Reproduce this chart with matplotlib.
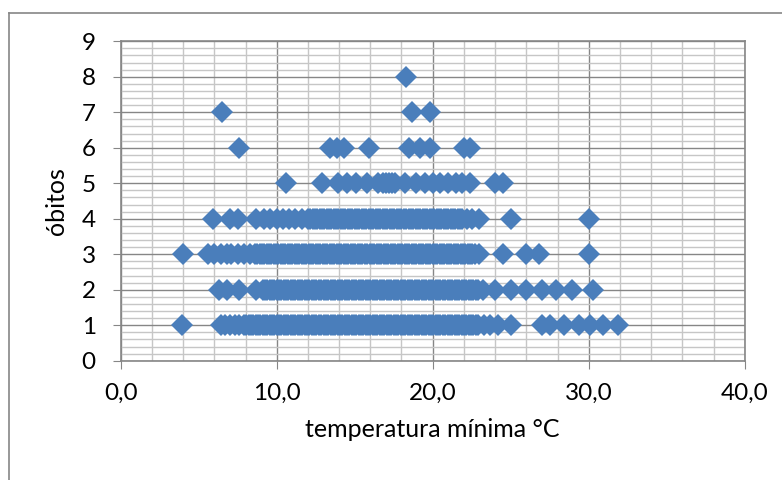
import matplotlib
matplotlib.use("Agg")
import matplotlib.pyplot as plt
from matplotlib.lines import Line2D
from matplotlib.ticker import MultipleLocator, FuncFormatter

# Data: x = minimum temperature (°C) per death count level
x_y1 = [3.9, 6.4, 6.7, 7.0, 7.3, 7.6, 7.9, 8.2, 8.5, 8.8, 9.1, 9.4, 9.7, 10.0, 10.3,
        10.6, 10.9, 11.2, 11.5, 11.8, 12.1, 12.4, 12.7, 13.0, 13.3, 13.6, 13.9, 14.2,
        14.5, 14.8, 15.1, 15.4, 15.7, 16.0, 16.3, 16.6, 16.9, 17.2, 17.5, 17.8, 18.1,
        18.4, 18.7, 19.0, 19.3, 19.6, 19.9, 20.2, 20.5, 20.8, 21.1, 21.4, 21.7, 22.0,
        22.3, 22.6, 22.9, 23.3, 23.7, 24.2, 25.0,
        27.0, 27.5, 28.4, 29.4, 30.1, 30.9, 31.9,
        8.05, 8.35, 8.65, 8.95, 9.25, 9.55, 9.85, 10.15, 10.45, 10.75, 11.05, 11.35,
        11.65, 11.95, 12.25, 12.55, 12.85, 13.15, 13.45, 13.75, 14.05, 14.35, 14.65,
        14.95, 15.25, 15.55, 15.85, 16.15, 16.45, 16.75, 17.05, 17.35, 17.65, 17.95,
        18.25, 18.55, 18.85, 19.15, 19.45, 19.75, 20.05, 20.35, 20.65, 20.95, 21.25,
        21.55, 21.85, 22.15, 22.45, 22.75]
x_y2 = [6.3, 6.8, 7.6, 8.7, 9.1, 9.4, 9.7, 10.0, 10.3, 10.6, 10.9, 11.2, 11.5, 11.8,
        12.1, 12.4, 12.7, 13.0, 13.3, 13.6, 13.9, 14.2, 14.5, 14.8, 15.1, 15.4, 15.7,
        16.0, 16.3, 16.6, 16.9, 17.2, 17.5, 17.8, 18.1, 18.4, 18.7, 19.0, 19.3, 19.6,
        19.9, 20.2, 20.5, 20.8, 21.1, 21.4, 21.7, 22.0, 22.3, 22.6, 22.9, 23.2,
        24.0, 25.0, 26.0, 27.0, 27.9, 28.9, 30.3,
        9.25, 9.55, 9.85, 10.15, 10.45, 10.75, 11.05, 11.35, 11.65, 11.95, 12.25,
        12.55, 12.85, 13.15, 13.45, 13.75, 14.05, 14.35, 14.65, 14.95, 15.25, 15.55,
        15.85, 16.15, 16.45, 16.75, 17.05, 17.35, 17.65, 17.95, 18.25, 18.55, 18.85,
        19.15, 19.45, 19.75, 20.05, 20.35, 20.65, 20.95, 21.25, 21.55, 21.85, 22.15,
        22.45, 22.75]
x_y3 = [4.0, 5.6, 6.0, 6.4, 6.8, 7.1, 7.5, 7.9, 8.3, 8.6, 8.9, 9.2, 9.5, 9.8, 10.1,
        10.4, 10.7, 11.0, 11.3, 11.6, 11.9, 12.2, 12.5, 12.8, 13.1, 13.4, 13.7, 14.0,
        14.3, 14.6, 14.9, 15.2, 15.5, 15.8, 16.1, 16.4, 16.7, 17.0, 17.3, 17.6, 17.9,
        18.2, 18.5, 18.8, 19.1, 19.4, 19.7, 20.0, 20.3, 20.6, 20.9, 21.2, 21.5, 21.8,
        22.1, 22.4, 22.7, 23.0, 24.5, 26.0, 26.8, 30.0,
        8.75, 9.05, 9.35, 9.65, 9.95, 10.25, 10.55, 10.85, 11.15, 11.45, 11.75, 12.05,
        12.35, 12.65, 12.95, 13.25, 13.55, 13.85, 14.15, 14.45, 14.75, 15.05, 15.35,
        15.65, 15.95, 16.25, 16.55, 16.85, 17.15, 17.45, 17.75, 18.05, 18.35, 18.65,
        18.95, 19.25, 19.55, 19.85, 20.15, 20.45, 20.75, 21.05, 21.35, 21.65, 21.95,
        22.25, 22.55]
x_y4 = [5.9, 7.0, 7.5, 8.7, 9.2, 9.6, 10.0, 10.4, 10.8, 11.2, 11.6, 12.0, 12.3, 12.6,
        12.9, 13.2, 13.5, 13.8, 14.1, 14.4, 14.7, 15.0, 15.3, 15.6, 15.9, 16.2, 16.5,
        16.8, 17.1, 17.4, 17.7, 18.0, 18.3, 18.6, 18.9, 19.2, 19.5, 19.8, 20.1, 20.4,
        20.7, 21.0, 21.3, 21.6, 21.9, 22.2, 22.5, 23.0, 25.0, 30.0,
        12.15, 12.45, 12.75, 13.05, 13.35, 13.65, 13.95, 14.25, 14.55, 14.85, 15.15,
        15.45, 15.75, 16.05, 16.35, 16.65, 16.95, 17.25, 17.55, 17.85, 18.15, 18.45,
        18.75, 19.05, 19.35, 19.65, 19.95, 20.25, 20.55, 20.85, 21.15, 21.45, 21.75]
x_y5 = [10.6, 12.9, 13.9, 14.5, 15.1, 15.8, 16.5, 16.8, 17.0, 17.2, 17.4, 17.6, 18.2,
        18.9, 19.5, 20.0, 20.5, 21.0, 21.5, 21.9, 22.4, 24.0, 24.5]
x_y6 = [7.6, 13.4, 13.85, 14.3, 15.9, 18.5, 19.2, 19.8, 22.0, 22.4]
x_y7 = [6.5, 18.7, 19.8]
x_y8 = [18.3]

levels = [1, 2, 3, 4, 5, 6, 7, 8]
series_x = [x_y1, x_y2, x_y3, x_y4, x_y5, x_y6, x_y7, x_y8]

xs, ys = [], []
for lvl, xv in zip(levels, series_x):
    xs.extend(xv)
    ys.extend([lvl] * len(xv))

FONT = ['Lato', 'DejaVu Sans']
plt.rcParams['font.family'] = FONT

fig = plt.figure(figsize=(7.82, 4.8), dpi=100)
ax = fig.add_axes([120.7 / 782, 1 - 360.7 / 480, 624 / 782, 319.4 / 480])

ax.plot(xs, ys, linestyle='none', marker='D', markersize=10.8,
        color='#4a7ebb', markeredgewidth=0, zorder=3, clip_on=False)

ax.set_xlim(0, 40)
ax.set_ylim(0, 9)
ax.xaxis.set_major_locator(MultipleLocator(10))
ax.xaxis.set_minor_locator(MultipleLocator(2))
ax.yaxis.set_major_locator(MultipleLocator(1))
ax.yaxis.set_minor_locator(MultipleLocator(0.2))
ax.xaxis.set_major_formatter(FuncFormatter(lambda v, p: f"{v:.1f}".replace('.', ',')))

ax.grid(which='major', color='#868686', linewidth=1.0, zorder=0)
ax.grid(which='minor', color='#c6c6c6', linewidth=1.0, zorder=0)
ax.set_axisbelow(True)

for s in ['left', 'bottom', 'top', 'right']:
    ax.spines[s].set_color('#868686')
    ax.spines[s].set_linewidth(1.2)

ax.tick_params(which='major', direction='out', length=6, color='#868686',
               labelsize=17.5, labelcolor='black')
ax.tick_params(which='minor', length=0)
ax.tick_params(axis='x', pad=10)
ax.tick_params(axis='y', pad=12)

ax.set_xlabel('temperatura mínima °C', fontsize=18, labelpad=10)
ax.set_ylabel('óbitos', fontsize=18, labelpad=10)

# outer chart border
fig.add_artist(Line2D([8.5 / 782, 8.5 / 782], [0, 1 - 13 / 480], transform=fig.transFigure,
                      color='#868686', linewidth=1.2))
fig.add_artist(Line2D([8.5 / 782, 1], [1 - 13 / 480, 1 - 13 / 480], transform=fig.transFigure,
                      color='#868686', linewidth=1.2))

fig.savefig('out.png', dpi=100)
